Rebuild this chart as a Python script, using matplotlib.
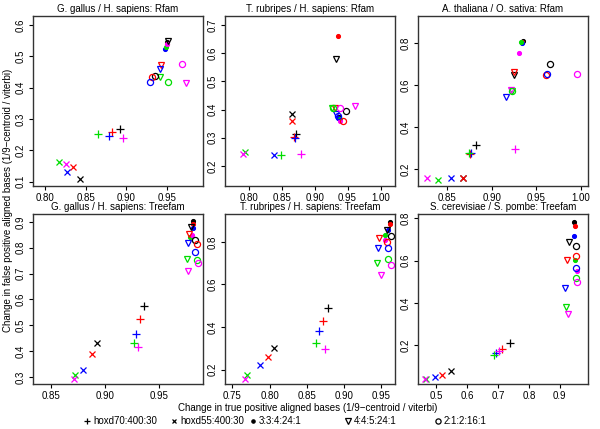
import matplotlib
matplotlib.use('Agg')
import matplotlib.pyplot as plt

plt.rcParams['font.family'] = ['Liberation Sans', 'DejaVu Sans']

titles = ['G. gallus / H. sapiens: Rfam', 'T. rubripes / H. sapiens: Rfam',
          'A. thaliana / O. sativa: Rfam', 'G. gallus / H. sapiens: Treefam',
          'T. rubripes / H. sapiens: Treefam', 'S. cerevisiae / S. pombe: Treefam']
methods = ['hoxd70:400:30', 'hoxd55:400:30', '3:3:4:24:1', '4:4:5:24:1', '2:1:2:16:1']
colors = ['black', 'red', 'blue', '#00dd00', 'magenta']

# rows = methods, columns = colours (black, red, blue, green, magenta)
gg_rfam_x = [[0.893, 0.882, 0.879, 0.8655, 0.8965],
             [0.8435, 0.835, 0.827, 0.817, 0.826],
             [0.951, 0.950, 0.948, 0.949, 0.950],
             [0.952, 0.9437, 0.9424, 0.942, 0.974],
             [0.936, 0.9325, 0.929, 0.952, 0.9685]]
gg_rfam_y = [[0.267, 0.257, 0.247, 0.252, 0.238],
             [0.107, 0.148, 0.132, 0.162, 0.155],
             [0.546, 0.538, 0.522, 0.530, 0.540],
             [0.548, 0.472, 0.4585, 0.435, 0.416],
             [0.436, 0.435, 0.419, 0.417, 0.4755]]

tr_rfam_x = [[0.8725, 0.869, 0.870, 0.8495, 0.880],
             [0.865, 0.866, 0.839, 0.795, 0.791],
             [0.937, 0.935, 0.936, 0.938, 0.939],
             [0.9327, 0.931, 0.9327, 0.926, 0.9607],
             [0.947, 0.943, 0.935, 0.928, 0.939]]
tr_rfam_y = [[0.313, 0.304, 0.301, 0.238, 0.242],
             [0.383, 0.360, 0.238, 0.251, 0.242],
             [0.372, 0.662, 0.370, 0.365, 0.361],
             [0.579, 0.405, 0.385, 0.406, 0.412],
             [0.394, 0.358, 0.379, 0.406, 0.406]]

at_rfam_x = [[0.8819, 0.8755, 0.8766, 0.8744, 0.9261],
             [0.868, 0.868, 0.8541, 0.8391, 0.8268],
             [0.9355, 0.934, 0.9336, 0.933, 0.931],
             [0.925, 0.9243, 0.9156, 0.9224, 0.9216],
             [0.9655, 0.9606, 0.9618, 0.9224, 0.9955]]
at_rfam_y = [[0.316, 0.273, 0.276, 0.279, 0.295],
             [0.157, 0.157, 0.157, 0.149, 0.157],
             [0.8127, 0.808, 0.803, 0.805, 0.7556],
             [0.649, 0.665, 0.546, 0.5746, 0.578],
             [0.7016, 0.649, 0.652, 0.575, 0.652]]

gg_tree_x = [[0.9366, 0.9322, 0.929, 0.9266, 0.9306],
             [0.8922, 0.8875, 0.8797, 0.8719, 0.8709],
             [0.9813, 0.9813, 0.982, 0.9788, 0.981],
             [0.9797, 0.978, 0.977, 0.976, 0.977],
             [0.9834, 0.985, 0.9834, 0.9853, 0.9866]]
gg_tree_y = [[0.575, 0.523, 0.4675, 0.430, 0.4156],
             [0.4325, 0.3896, 0.326, 0.3065, 0.292],
             [0.904, 0.891, 0.874, 0.840, 0.850],
             [0.878, 0.8545, 0.818, 0.757, 0.711],
             [0.8286, 0.8156, 0.783, 0.753, 0.7416]]

tr_tree_x = [[0.8787, 0.8719, 0.8665, 0.862, 0.8742],
             [0.8055, 0.7983, 0.787, 0.7703, 0.7667],
             [0.962, 0.962, 0.960, 0.955, 0.955],
             [0.9586, 0.948, 0.946, 0.945, 0.950],
             [0.963, 0.958, 0.959, 0.960, 0.964]]
tr_tree_y = [[0.489, 0.4258, 0.3816, 0.3263, 0.298],
             [0.2995, 0.260, 0.219, 0.1763, 0.1558],
             [0.893, 0.883, 0.858, 0.832, 0.811],
             [0.855, 0.816, 0.773, 0.700, 0.642],
             [0.827, 0.800, 0.773, 0.721, 0.689]]

sc_tree_x = [[0.740, 0.713, 0.6935, 0.686, 0.702],
             [0.5486, 0.5184, 0.4946, 0.4665, 0.4643],
             [0.9454, 0.9486, 0.9475, 0.9508, 0.956],
             [0.9313, 0.9238, 0.9183, 0.9205, 0.927],
             [0.953, 0.953, 0.953, 0.953, 0.956]]
sc_tree_y = [[0.2127, 0.184, 0.165, 0.154, 0.173],
             [0.081, 0.0619, 0.0492, 0.043, 0.0413],
             [0.784, 0.7635, 0.716, 0.6048, 0.549],
             [0.689, 0.605, 0.4714, 0.3825, 0.3476],
             [0.670, 0.6206, 0.565, 0.519, 0.5016]]

xs = [gg_rfam_x, tr_rfam_x, at_rfam_x, gg_tree_x, tr_tree_x, sc_tree_x]
ys = [gg_rfam_y, tr_rfam_y, at_rfam_y, gg_tree_y, tr_tree_y, sc_tree_y]

xlims = [(0.785, 0.995), (0.764, 1.022), (0.817, 1.008),
         (0.833, 0.991), (0.740, 0.969), (0.4405, 0.992)]
ylims = [(0.086, 0.629), (0.129, 0.732), (0.121, 0.930),
         (0.273, 0.930), (0.132, 0.931), (0.0175, 0.8206)]
xticks = [[0.80, 0.85, 0.90, 0.95], [0.80, 0.85, 0.90, 0.95, 1.00],
          [0.85, 0.90, 0.95, 1.00], [0.85, 0.90, 0.95],
          [0.75, 0.80, 0.85, 0.90, 0.95], [0.5, 0.6, 0.7, 0.8, 0.9]]
yticks = [[0.1, 0.2, 0.3, 0.4, 0.5, 0.6], [0.2, 0.3, 0.4, 0.5, 0.6, 0.7],
          [0.2, 0.4, 0.6, 0.8], [0.3, 0.4, 0.5, 0.6, 0.7, 0.8, 0.9],
          [0.2, 0.4, 0.6, 0.8], [0.2, 0.4, 0.6, 0.8]]
xfmt = ['%.2f', '%.2f', '%.2f', '%.2f', '%.2f', '%.1f']

# marker, size, fill kind
marker_style = [('+', 5.2, 'line'), ('x', 4.0, 'line'), ('o', 2.8, 'fill'),
                ('v', 4.6, 'open'), ('o', 4.4, 'open')]


def draw_marker(ax, x, y, m, color, scale=1.0):
    mk, ms, kind = marker_style[m]
    if kind == 'open':
        ax.plot(x, y, marker=mk, ms=ms * scale, mew=0.9, mfc='none', mec=color, ls='none')
    else:
        ax.plot(x, y, marker=mk, ms=ms * scale, mew=0.9, color=color, ls='none')


W, H = 600, 429
fig = plt.figure(figsize=(6, 4.29), dpi=100)
lefts = [33, 225, 418]
tops = [16, 214]
fs = 7

for i in range(6):
    col, row = i % 3, i // 3
    ax = fig.add_axes([lefts[col] / W, 1 - (tops[row] + 170) / H, 170 / W, 170 / H])
    for m in range(5):
        for c in range(5):
            draw_marker(ax, xs[i][m][c], ys[i][m][c], m, colors[c])
    ax.set_xlim(xlims[i])
    ax.set_ylim(ylims[i])
    ax.set_xticks(xticks[i])
    ax.set_xticklabels([xfmt[i] % v for v in xticks[i]])
    ax.set_yticks(yticks[i])
    ax.set_yticklabels(['%.1f' % v for v in yticks[i]], rotation=90, va='center')
    ax.tick_params(labelsize=fs, length=3, width=0.8, pad=2)
    for s in ax.spines.values():
        s.set_linewidth(1.0)
        s.set_color('#333333')
    ax.set_title(titles[i], fontsize=fs, pad=3)

fig.text(308 / W, 1 - 408 / H, 'Change in true positive aligned bases (1/9\u2212centroid / viterbi)',
         ha='center', va='center', fontsize=fs)
fig.text(8 / W, 1 - 200 / H, 'Change in false positive aligned bases (1/9\u2212centroid / viterbi)',
         ha='center', va='center', rotation=90, fontsize=fs)

# legend row drawn in pixel coordinates
lax = fig.add_axes([0, 0, 1, 1], facecolor='none')
lax.set_xlim(0, W)
lax.set_ylim(H, 0)
lax.axis('off')
legend_x = [87, 174, 253, 348, 438]
for m in range(5):
    draw_marker(lax, legend_x[m], 421, m, 'black', scale=0.85)
    lax.text(legend_x[m] + 6, 421, methods[m], fontsize=fs, va='center', ha='left')

fig.savefig('out.png', dpi=100)
